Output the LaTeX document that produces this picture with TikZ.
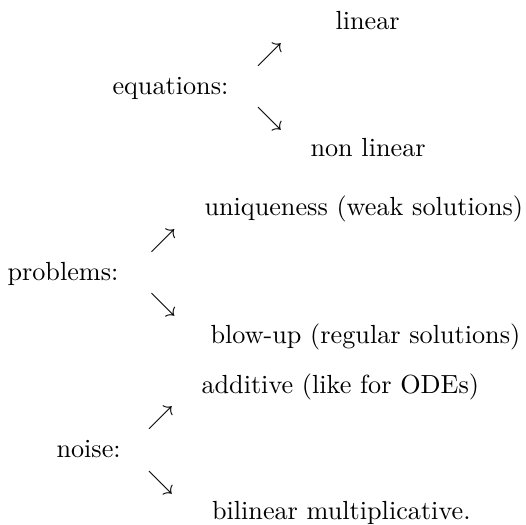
\documentclass[tikz,border=0pt]{standalone}
\begin{document}
\begin{tikzpicture}[x=0.3817pt,y=-0.3817pt,
  lbl/.style={anchor=base west,inner sep=0pt},
  arr/.style={anchor=center,inner sep=0pt}]
\useasboundingbox (0,0) rectangle (526,524);
\node[lbl] (lin) at (335,29.5) {linear};
\node[arr] (a1) at (269.5,55) {$\nearrow$};
\node[lbl] (eq) at (112,95) {equations:};
\node[arr] (a2) at (269.5,119) {$\searrow$};
\node[lbl] (nlin) at (310,157) {non linear};
\node[lbl] (uniq) at (204,216) {uniqueness (weak solutions)};
\node[arr] (a3) at (163,241) {$\nearrow$};
\node[lbl] (prob) at (7,280) {problems:};
\node[arr] (a4) at (163,305) {$\searrow$};
\node[lbl] (blow) at (210,343) {blow-up (regular solutions)};
\node[lbl] (add) at (201,393) {additive (like for ODEs)};
\node[arr] (a5) at (160.5,418) {$\nearrow$};
\node[lbl] (noise) at (56,457.5) {noise:};
\node[arr] (a6) at (160.5,482.5) {$\searrow$};
\node[lbl] (bil) at (211.5,519.5) {bilinear multiplicative.};
\end{tikzpicture}
\end{document}
